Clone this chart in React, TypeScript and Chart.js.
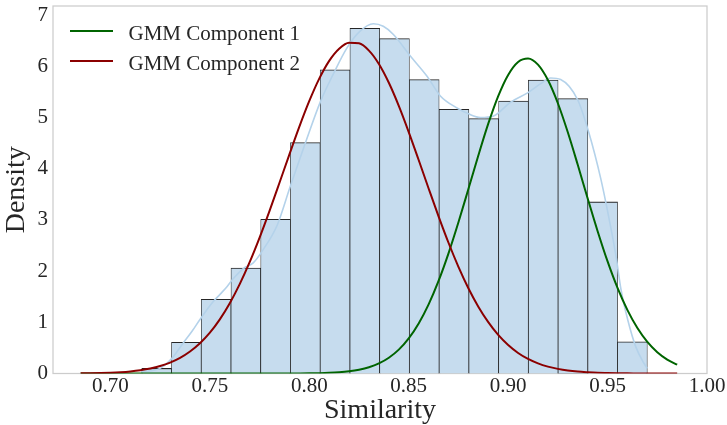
import React, { useEffect, useRef } from 'react';
import { Chart, registerables } from 'chart.js';

Chart.register(...registerables);

// Histogram (density) bins
const BIN_EDGES = [
  0.71574, 0.730695, 0.74565, 0.760605, 0.77556, 0.790515, 0.80547, 0.820425, 0.83538,
  0.850335, 0.86529, 0.880245, 0.8952, 0.910155, 0.92511, 0.940065, 0.95502, 0.969975,
];
const BIN_DENSITY = [
  0.1, 0.61, 1.45, 2.06, 3.01, 4.51, 5.93, 6.74, 6.54, 5.74, 5.16, 4.98, 5.32, 5.73, 5.37, 3.35, 0.62,
];

// KDE curve
const KDE_X = [
  0.7154, 0.7249, 0.731, 0.7365, 0.7411, 0.7451, 0.7516, 0.7552, 0.7587, 0.7617, 0.7668, 0.7718,
  0.7768, 0.7839, 0.7904, 0.798, 0.8055, 0.8121, 0.8188, 0.8254, 0.8322, 0.8372, 0.8423, 0.8508,
  0.8593, 0.8659, 0.8745, 0.8801, 0.8861, 0.8927, 0.9013, 0.9098, 0.9164, 0.9214, 0.9264, 0.935,
  0.9406, 0.9466, 0.9501, 0.9542, 0.9567, 0.9602, 0.9642, 0.9683, 0.97,
];
const KDE_Y = [
  0.03, 0.1, 0.3, 0.59, 0.83, 1.06, 1.4, 1.55, 1.7, 1.85, 2.05, 2.16,
  2.42, 2.9, 3.65, 4.5, 5.3, 5.85, 6.35, 6.68, 6.83, 6.78, 6.62, 6.2,
  5.8, 5.42, 5.18, 5.07, 5.0, 5.03, 5.3, 5.48, 5.66, 5.77, 5.74, 5.34,
  4.7, 3.8, 3.15, 2.3, 1.65, 1.04, 0.52, 0.2, 0.1,
];

// GMM component curves
const GMM_X = [
  0.685, 0.69, 0.695, 0.7, 0.705, 0.71, 0.715, 0.72, 0.725, 0.73, 0.735, 0.74, 0.745, 0.75, 0.755,
  0.76, 0.765, 0.77, 0.775, 0.78, 0.785, 0.79, 0.795, 0.8, 0.805, 0.81, 0.815, 0.82, 0.825, 0.83,
  0.835, 0.84, 0.845, 0.85, 0.855, 0.86, 0.865, 0.87, 0.875, 0.88, 0.885, 0.89, 0.895, 0.9, 0.905,
  0.91, 0.915, 0.92, 0.925, 0.93, 0.935, 0.94, 0.945, 0.95, 0.955, 0.96, 0.965, 0.97, 0.975, 0.98,
  0.985,
];
const GMM1_Y = [
  0, 0, 0, 0, 0, 0, 0, 0, 0, 0, 0, 0, 0, 0, 0,
  0, 0, 0, 0.0001, 0.0002, 0.0004, 0.0009, 0.0018, 0.0036, 0.0069, 0.0131, 0.0239, 0.0424, 0.0729, 0.121,
  0.196, 0.307, 0.466, 0.686, 0.977, 1.35, 1.808, 2.347, 2.953, 3.601, 4.257, 4.878, 5.417, 5.831, 6.084,
  6.153, 6.031, 5.73, 5.277, 4.71, 4.075, 3.417, 2.778, 2.188, 1.671, 1.237, 0.888, 0.617, 0.416, 0.272,
  0.172,
];
const GMM2_Y = [
  0.0033, 0.0057, 0.0096, 0.0159, 0.0258, 0.041, 0.064, 0.097, 0.145, 0.213, 0.305, 0.429, 0.591, 0.798, 1.057,
  1.372, 1.744, 2.173, 2.653, 3.175, 3.724, 4.28, 4.821, 5.322, 5.758, 6.105, 6.343, 6.46, 6.447, 6.305,
  6.044, 5.677, 5.226, 4.715, 4.169, 3.613, 3.068, 2.553, 2.083, 1.665, 1.304, 1.002, 0.753, 0.556, 0.401,
  0.284, 0.197, 0.134, 0.09, 0.058, 0.037, 0.024, 0.014, 0.009, 0.005, 0.003, 0.002, 0.001, 0.0005, 0.0003,
  0.0001,
];

const X_TICKS = [0.7, 0.75, 0.8, 0.85, 0.9, 0.95, 1.0];
const Y_TICKS = [0, 1, 2, 3, 4, 5, 6, 7];
const LEGEND_LABELS = ['GMM Component 1', 'GMM Component 2'];
const X_LABEL = 'Similarity';
const Y_LABEL = 'Density';

const FONT = "'Liberation Serif', 'Times New Roman', serif";
const TEXT_COLOR = '#262626';
const GREEN = '#006400';
const RED = '#8b0000';

const framePlugin = {
  id: 'frame',
  beforeDatasetsDraw(chart: any) {
    const { ctx, chartArea } = chart;
    ctx.save();
    ctx.strokeStyle = '#cccccc';
    ctx.lineWidth = 1.25;
    ctx.strokeRect(chartArea.left, chartArea.top, chartArea.right - chartArea.left, chartArea.bottom - chartArea.top);
    ctx.restore();
  },
};

const legendPlugin = {
  id: 'gmmLegend',
  afterDraw(chart: any) {
    const { ctx, chartArea } = chart;
    const colors = [GREEN, RED];
    ctx.save();
    ctx.font = `21px ${FONT}`;
    ctx.fillStyle = TEXT_COLOR;
    ctx.textBaseline = 'alphabetic';
    ctx.textAlign = 'left';
    LEGEND_LABELS.forEach((label, i) => {
      const y = chartArea.top + 25 + i * 30;
      ctx.strokeStyle = colors[i];
      ctx.lineWidth = 2;
      ctx.beginPath();
      ctx.moveTo(chartArea.left + 17, y);
      ctx.lineTo(chartArea.left + 60, y);
      ctx.stroke();
      ctx.fillText(label, chartArea.left + 75.5, y + 9);
    });
    ctx.restore();
  },
};

export default function App() {
  const canvasRef = useRef<HTMLCanvasElement | null>(null);

  useEffect(() => {
    if (!canvasRef.current) return;
    const bars = BIN_DENSITY.map((d, i) => ({ x: (BIN_EDGES[i] + BIN_EDGES[i + 1]) / 2, y: d }));
    const kde = KDE_X.map((x, i) => ({ x, y: KDE_Y[i] }));
    const g1 = GMM_X.map((x, i) => ({ x, y: GMM1_Y[i] }));
    const g2 = GMM_X.map((x, i) => ({ x, y: GMM2_Y[i] }));

    const chart = new Chart(canvasRef.current, {
      type: 'bar',
      data: {
        datasets: [
          {
            type: 'line',
            label: LEGEND_LABELS[1],
            data: g2,
            borderColor: RED,
            borderWidth: 2,
            pointRadius: 0,
            cubicInterpolationMode: 'monotone',
            fill: false,
            order: 0,
          } as any,
          {
            type: 'line',
            label: LEGEND_LABELS[0],
            data: g1,
            borderColor: GREEN,
            borderWidth: 2,
            pointRadius: 0,
            cubicInterpolationMode: 'monotone',
            fill: false,
            order: 1,
          } as any,
          {
            type: 'line',
            label: 'KDE',
            data: kde,
            borderColor: '#b4d2ea',
            borderWidth: 1.6,
            pointRadius: 0,
            cubicInterpolationMode: 'monotone',
            fill: false,
            order: 2,
          } as any,
          {
            type: 'bar',
            label: 'Histogram',
            data: bars,
            backgroundColor: '#c6dcee',
            borderColor: 'rgba(0,0,0,0.85)',
            borderWidth: { top: 1.1, left: 0.75, right: 0.75, bottom: 0 },
            borderSkipped: false,
            barPercentage: 1,
            categoryPercentage: 1,
            order: 3,
          } as any,
        ],
      },
      options: {
        responsive: false,
        animation: false,
        devicePixelRatio: 1,
        layout: { padding: { top: 6, right: 20, left: 0, bottom: 0 } },
        plugins: {
          legend: { display: false },
          tooltip: { enabled: false },
        },
        scales: {
          x: {
            type: 'linear',
            offset: false,
            min: 0.6711,
            max: 1.0,
            grid: { display: false, drawTicks: false },
            border: { display: false },
            afterBuildTicks: (s: any) => {
              s.ticks = X_TICKS.map((v) => ({ value: v }));
            },
            afterFit: (s: any) => {
              s.height = 51.5;
              s.paddingLeft = 0;
              s.paddingRight = 0;
            },
            ticks: {
              padding: 0,
              color: TEXT_COLOR,
              font: { family: FONT, size: 21 },
              maxRotation: 0,
              autoSkip: false,
              callback: (v: any) => Number(v).toFixed(2),
            },
            title: {
              display: true,
              text: X_LABEL,
              color: TEXT_COLOR,
              font: { family: FONT, size: 28, lineHeight: 1 },
              padding: { top: 0, bottom: 0.5 },
            },
          },
          y: {
            type: 'linear',
            min: 0,
            max: 7.176,
            grid: { display: false, drawTicks: false },
            border: { display: false },
            afterBuildTicks: (s: any) => {
              s.ticks = Y_TICKS.map((v) => ({ value: v }));
            },
            afterFit: (s: any) => {
              s.width = 53;
              s.paddingTop = 0;
              s.paddingBottom = 0;
            },
            ticks: {
              padding: 5,
              color: TEXT_COLOR,
              font: { family: FONT, size: 21 },
              autoSkip: false,
              callback: (v: any) => String(v),
            },
            title: {
              display: true,
              text: Y_LABEL,
              color: TEXT_COLOR,
              font: { family: FONT, size: 28, lineHeight: 1 },
              padding: { top: 3, bottom: 0 },
            },
          },
        },
      },
      plugins: [framePlugin, legendPlugin],
    } as any);

    return () => {
      chart.destroy();
    };
  }, []);

  return (
    <div style={{ position: 'fixed', left: 0, top: 0, width: 727, height: 425, background: '#ffffff' }}>
      <canvas ref={canvasRef} width={727} height={425} style={{ width: 727, height: 425, display: 'block' }} />
    </div>
  );
}
